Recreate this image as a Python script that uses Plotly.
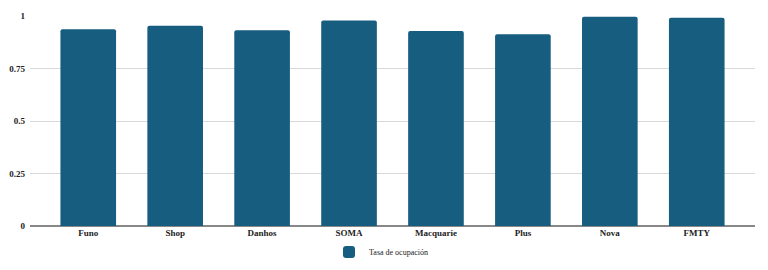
import plotly.graph_objects as go

categories = ["Funo", "Shop", "Danhos", "SOMA", "Macquarie", "Plus", "Nova", "FMTY"]
tasa = [0.937, 0.954, 0.932, 0.978, 0.928, 0.913, 0.996, 0.992]
ytick_vals = [0, 0.25, 0.5, 0.75, 1]
ytick_text = ["0", "0.25", "0.5", "0.75", "1"]

fig = go.Figure()
fig.add_trace(go.Bar(
    x=categories, y=tasa, name="Tasa de ocupación",
    marker=dict(color="#175d80", cornerradius=2, line=dict(width=0)),
    width=0.64,
))

serif = "Liberation Serif, Times New Roman, serif"
fig.update_layout(
    width=768, height=270,
    margin=dict(l=30, r=13, t=16, b=44, autoexpand=False),
    paper_bgcolor="white", plot_bgcolor="white",
    font=dict(family=serif, size=9, color="#222"),
    showlegend=True,
    legend=dict(orientation="h", xref="container", yref="container",
                x=0.5 - 3 / 768, xanchor="center", y=1 - 252 / 270, yanchor="middle",
                font=dict(family=serif, size=8, color="#222"), itemwidth=30),
    xaxis=dict(range=[-0.67, 7.67], showgrid=False, ticks="", showline=False,
               automargin=False,
               tickfont=dict(family=serif, size=9, color="#222", weight="bold")),
    yaxis=dict(range=[0, 1], tickvals=ytick_vals, ticktext=ytick_text,
               showgrid=True, gridcolor="#d9d9d9", gridwidth=1,
               zeroline=True, zerolinecolor="#888888", zerolinewidth=2,
               ticks="", ticklabelstandoff=4, automargin=False,
               tickfont=dict(family=serif, size=9, color="#222", weight="bold")),
)
fig.write_html("out.html")
